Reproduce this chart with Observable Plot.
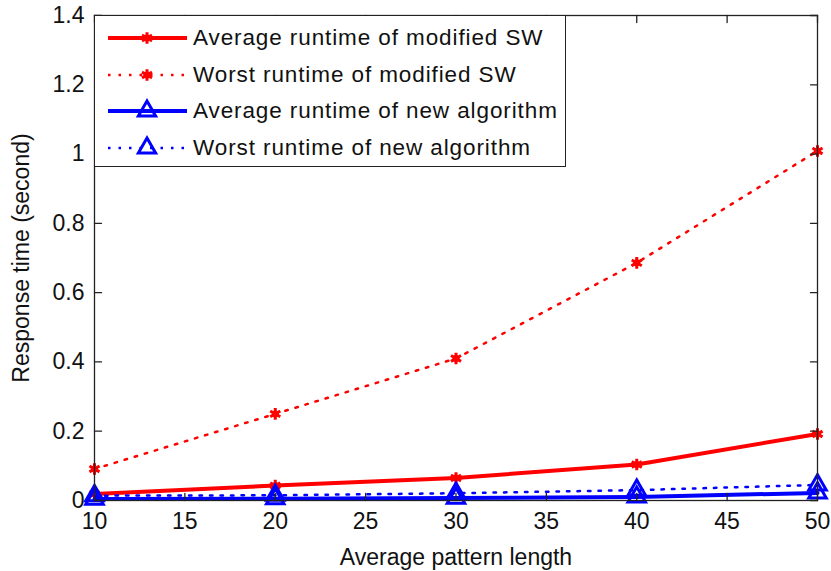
<!DOCTYPE html>
<html>
<head>
<meta charset="utf-8">
<script src="https://cdn.jsdelivr.net/npm/d3@7"></script>
<script src="https://cdn.jsdelivr.net/npm/@observablehq/plot@0.6"></script>
<style>
  html, body { margin: 0; padding: 0; background: #fff; }
  #wrap { position: relative; width: 831px; height: 571px; font-family: "Liberation Sans", Arial, sans-serif; }
  #legend { position: absolute; left: 94px; top: 15px; width: 472px; height: 152px; background: #fff; border: 1.5px solid #222; box-sizing: border-box; }
  .row { position: absolute; left: 0; height: 30px; display: flex; align-items: center; }
  .row span { font-size: 22.5px; color: #111; margin-left: 6px; letter-spacing: 0.9px; }
</style>
</head>
<body>
<div id="wrap"><div id="legend"></div></div>
<script>
const lengths = [10, 20, 30, 40, 50];
const avgSW    = [0.019, 0.043, 0.065, 0.104, 0.192];
const worstSW  = [0.091, 0.250, 0.410, 0.686, 1.009];
const avgNew   = [0.004, 0.005, 0.007, 0.010, 0.022];
const worstNew = [0.014, 0.015, 0.021, 0.030, 0.045];

const seriesNames = [
  "Average runtime of modified SW",
  "Worst runtime of modified SW",
  "Average runtime of new algorithm",
  "Worst runtime of new algorithm"
];
const seriesValues = [avgSW, worstSW, avgNew, worstNew];
const seriesColors = ["#ff0000", "#ff0000", "#0000ff", "#0000ff"];
const seriesDash = [null, "2.5,8", null, "2.5,8"];
const seriesWidth = [4, 2.5, 4, 2.5];
const seriesSymbol = ["asterisk", "asterisk", "triangle", "triangle"];

const xTicks = [10, 15, 20, 25, 30, 35, 40, 45, 50];
const yTicks = [0, 0.2, 0.4, 0.6, 0.8, 1, 1.2, 1.4];

const xLabel = "Average pattern length";
const yLabel = "Response time (second)";

const rows = [];
seriesNames.forEach((name, i) => {
  lengths.forEach((x, j) => rows.push({series: name, i, x, y: seriesValues[i][j]}));
});

const tickShape = {draw(ctx, l) { ctx.moveTo(0, 0); ctx.lineTo(0, -l); }};
const tickOpts = {length: 7, anchor: "start", shape: tickShape, stroke: "#222", strokeWidth: 1.3};

const lineMarks = [];
[1, 0, 3, 2].forEach(i => {
  const d = rows.filter(r => r.i === i);
  lineMarks.push(Plot.line(d, {x: "x", y: "y", stroke: seriesColors[i], strokeWidth: seriesWidth[i], strokeDasharray: seriesDash[i]}));
  if (seriesSymbol[i] === "asterisk") {
    lineMarks.push(Plot.dot(d, {x: "x", y: "y", r: 3.5, fill: seriesColors[i]}));
    lineMarks.push(Plot.dot(d, {x: "x", y: "y", symbol: "asterisk", r: 5.5, stroke: seriesColors[i], strokeWidth: 3}));
  } else {
    lineMarks.push(Plot.dot(d, {x: "x", y: "y", symbol: "triangle", r: 6.5, stroke: seriesColors[i], strokeWidth: 3, fill: "none"}));
  }
});

const chart = Plot.plot({
  width: 831, height: 571,
  marginLeft: 94, marginRight: 14, marginTop: 15, marginBottom: 71,
  style: {fontFamily: '"Liberation Sans", Arial, sans-serif', fontSize: "23px", color: "#111", background: "#fff"},
  x: {domain: [10, 50]},
  y: {domain: [0, 1.4]},
  marks: [
    ...lineMarks,
    Plot.frame({stroke: "#222", strokeWidth: 1.3}),
    Plot.vector(xTicks, {x: d => d, y: 0, rotate: 0, ...tickOpts}),
    Plot.vector(xTicks, {x: d => d, y: 1.4, rotate: 180, ...tickOpts}),
    Plot.vector(yTicks, {y: d => d, x: 10, rotate: 90, ...tickOpts}),
    Plot.vector(yTicks, {y: d => d, x: 50, rotate: -90, ...tickOpts}),
    Plot.axisX({ticks: xTicks, tickSize: 0, tickPadding: 12, tickFormat: d => String(d), fontSize: 23,
      label: xLabel, labelAnchor: "center", labelArrow: "none", labelOffset: 64}),
    Plot.axisY({ticks: yTicks, tickSize: 0, tickPadding: 10, tickFormat: d => String(d), fontSize: 23,
      label: yLabel, labelAnchor: "center", labelArrow: "none", labelOffset: 82})
  ]
});
const wrap = document.getElementById("wrap");
wrap.insertBefore(chart, wrap.firstChild);

const legend = d3.select("#legend");
seriesNames.forEach((name, i) => {
  const row = legend.append("div").attr("class", "row").style("top", (7 + i * 36.7) + "px").style("left", "12px");
  const svg = row.append("svg").attr("width", 80).attr("height", 30);
  svg.append("line").attr("x1", 1).attr("x2", 80).attr("y1", 15).attr("y2", 15)
    .attr("stroke", seriesColors[i]).attr("stroke-width", seriesWidth[i])
    .attr("stroke-dasharray", seriesDash[i]);
  if (seriesSymbol[i] === "asterisk") {
    svg.append("circle").attr("cx", 40).attr("cy", 15).attr("r", 3.5).attr("fill", seriesColors[i]);
    svg.append("path").attr("transform", "translate(40,15)")
      .attr("d", d3.symbol(d3.symbolAsterisk, 95)())
      .attr("fill", "none").attr("stroke", seriesColors[i]).attr("stroke-width", 3);
  } else {
    svg.append("path").attr("transform", "translate(40,15)")
      .attr("d", d3.symbol(d3.symbolTriangle, 130)())
      .attr("fill", "none").attr("stroke", seriesColors[i]).attr("stroke-width", 3);
  }
  row.append("span").text(name);
});
</script>
</body>
</html>
